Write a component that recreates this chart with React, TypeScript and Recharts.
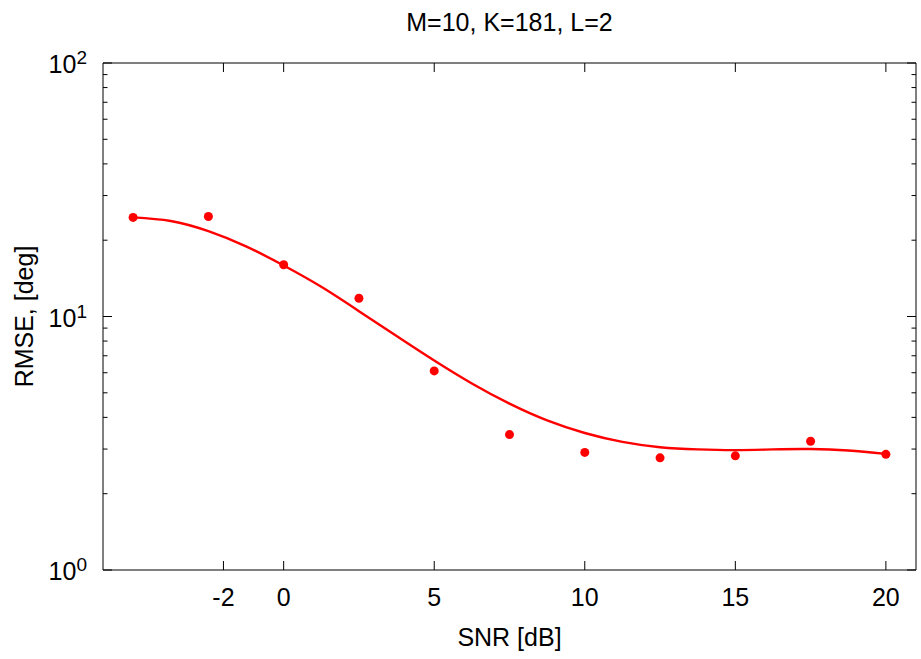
import { ComposedChart, Label, Line, Scatter, XAxis, YAxis } from "recharts";

// measured points (dots)
const snrMeasured = [-5, -2.5, 0, 2.5, 5, 7.5, 10, 12.5, 15, 17.5, 20];
const rmseMeasured = [24.6, 24.8, 16.0, 11.8, 6.1, 3.42, 2.91, 2.77, 2.82, 3.22, 2.86];

// smooth fitted curve
const snrFit = [-5, -3.75, -2.5, -1.25, 0, 1.25, 2.5, 3.75, 5, 6.25, 7.5, 8.75, 10, 11.25, 12.5, 13.75, 15, 16.25, 17.5, 18.75, 20];
const rmseFit = [24.6, 23.8, 21.7, 18.9, 15.9, 13.1, 10.5, 8.37, 6.7, 5.44, 4.53, 3.89, 3.47, 3.2, 3.05, 2.99, 2.97, 2.99, 3.0, 2.96, 2.87];

const xTicks = [-2, 0, 5, 10, 15, 20];
const yTicks = [1, 2, 3, 4, 5, 6, 7, 8, 9, 10, 20, 30, 40, 50, 60, 70, 80, 90, 100];

const title = "M=10, K=181, L=2";
const xLabel = "SNR [dB]";
const yLabel = "RMSE, [deg]";

const points = snrMeasured.map((snr, i) => ({ snr, rmse: rmseMeasured[i] }));
const fit = snrFit.map((snr, i) => ({ snr, rmse: rmseFit[i] }));

const FONT = "'Liberation Sans', Arial, Helvetica, sans-serif";
const INK = "#000";
const RED = "#ff0000";

const isDecade = (v: number) => Math.abs(Math.log10(v) - Math.round(Math.log10(v))) < 1e-9;

function LeftTick(props: any) {
  const { x, y, payload } = props;
  const major = isDecade(payload.value);
  return (
    <g>
      <line x1={x} x2={x + (major ? 9 : 4.5)} y1={y} y2={y} stroke={INK} />
      {major && (
        <text x={x - 16} y={y + 10} textAnchor="end" fontFamily={FONT} fontSize={25} fill={INK}>
          10
          <tspan dy={-9} fontSize={19}>
            {Math.round(Math.log10(payload.value))}
          </tspan>
        </text>
      )}
    </g>
  );
}

function RightTick(props: any) {
  const { x, y, payload } = props;
  const major = isDecade(payload.value);
  return <line x1={x} x2={x - (major ? 9 : 4.5)} y1={y} y2={y} stroke={INK} />;
}

function BottomTick(props: any) {
  const { x, y, payload } = props;
  return (
    <g>
      <line x1={x} x2={x} y1={y} y2={y - 9} stroke={INK} />
      <text x={x} y={y + 36} textAnchor="middle" fontFamily={FONT} fontSize={25} fill={INK}>
        {payload.value}
      </text>
    </g>
  );
}

function TopTick(props: any) {
  const { x, y } = props;
  return <line x1={x} x2={x} y1={y} y2={y + 9} stroke={INK} />;
}

export default function App() {
  return (
    <div style={{ position: "absolute", left: 0, top: 0, background: "#fff" }}>
      <ComposedChart width={921} height={659} margin={{ top: 62, right: 4, bottom: 0, left: 0 }}>
        <XAxis
          xAxisId="bottom"
          dataKey="snr"
          type="number"
          domain={[-6, 21]}
          ticks={xTicks}
          interval={0}
          allowDataOverflow
          height={89}
          tickSize={0}
          tickMargin={0}
          tick={<BottomTick />}
          axisLine={{ stroke: INK }}
          tickLine={false}
        >
          <Label
            content={({ viewBox }: any) => (
              <text
                x={viewBox.x + viewBox.width / 2}
                y={646}
                textAnchor="middle"
                fontFamily={FONT}
                fontSize={25}
                fill={INK}
              >
                {xLabel}
              </text>
            )}
          />
        </XAxis>
        <XAxis
          xAxisId="top"
          orientation="top"
          dataKey="snr"
          type="number"
          domain={[-6, 21]}
          ticks={xTicks}
          interval={0}
          allowDataOverflow
          height={1}
          tickSize={0}
          tickMargin={0}
          tick={<TopTick />}
          axisLine={{ stroke: INK }}
          tickLine={false}
        >
          <Label
            content={({ viewBox }: any) => (
              <text
                x={viewBox.x + viewBox.width / 2}
                y={31}
                textAnchor="middle"
                fontFamily={FONT}
                fontSize={25}
                fill={INK}
              >
                {title}
              </text>
            )}
          />
        </XAxis>
        <YAxis
          yAxisId="left"
          dataKey="rmse"
          type="number"
          scale="log"
          domain={[1, 100]}
          ticks={yTicks}
          interval={0}
          allowDataOverflow
          width={103}
          tickSize={0}
          tickMargin={0}
          tick={<LeftTick />}
          axisLine={{ stroke: INK }}
          tickLine={false}
        >
          <Label
            content={({ viewBox }: any) => {
              const cy = viewBox.y + viewBox.height / 2;
              return (
                <text
                  x={33}
                  y={cy}
                  transform={`rotate(-90, 33, ${cy})`}
                  textAnchor="middle"
                  fontFamily={FONT}
                  fontSize={25}
                  fill={INK}
                >
                  {yLabel}
                </text>
              );
            }}
          />
        </YAxis>
        <YAxis
          yAxisId="right"
          orientation="right"
          dataKey="rmse"
          type="number"
          scale="log"
          domain={[1, 100]}
          ticks={yTicks}
          interval={0}
          allowDataOverflow
          width={1}
          tickSize={0}
          tickMargin={0}
          tick={<RightTick />}
          axisLine={{ stroke: INK }}
          tickLine={false}
        />
        <Line
          xAxisId="bottom"
          yAxisId="left"
          data={fit}
          dataKey="rmse"
          type="natural"
          stroke={RED}
          strokeWidth={2.4}
          dot={false}
          isAnimationActive={false}
        />
        <Scatter
          xAxisId="top"
          yAxisId="right"
          data={points}
          dataKey="rmse"
          fill={RED}
          shape={(p: any) => <circle cx={p.cx} cy={p.cy} r={4.5} fill={RED} />}
          isAnimationActive={false}
        />
      </ComposedChart>
    </div>
  );
}
